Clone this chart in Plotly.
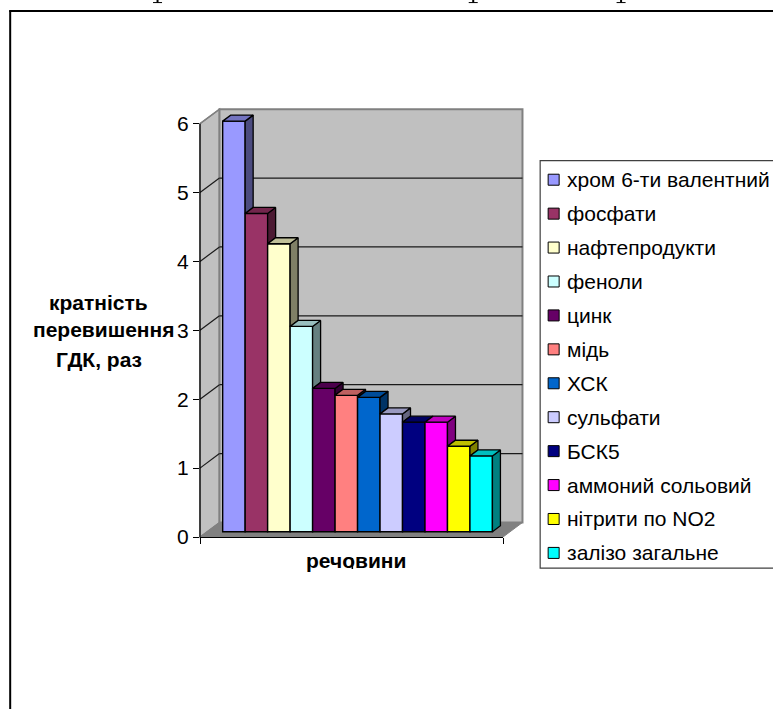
import plotly.graph_objects as go

substances = ["хром 6-ти валентний", "фосфати", "нафтепродукти", "феноли", "цинк", "мідь",
              "ХСК", "сульфати", "БСК5", "аммоний сольовий", "нітрити по NO2", "залізо загальне"]
values = [5.96, 4.62, 4.18, 2.98, 2.08, 1.98, 1.95, 1.71, 1.59, 1.59, 1.24, 1.10]
colors = ["#9999FF", "#993366", "#FFFFCC", "#CCFFFF", "#660066", "#FF8080",
          "#0066CC", "#CCCCFF", "#000080", "#FF00FF", "#FFFF00", "#00FFFF"]
y_ticks = [0, 1, 2, 3, 4, 5, 6]

W, H = 773, 709
L, R, B = 200.0, 503.3, 537.0                    # front plane of the 3-D box, pixels
Y_SCALE = (B - 124.0) / 6.0
Y_TOP = 6.3                                      # a little headroom above the 6 tick
T = B - Y_TOP * Y_SCALE
X0, X1 = -1.509, 11.97                           # x axis range (bar index units)
X_SCALE = (R - L) / (X1 - X0)
BASE = 5.3 / Y_SCALE                             # bars stand slightly inside the floor
BAR_DX, BAR_DY = 8 / X_SCALE, 6 / Y_SCALE        # bar depth
WALL_DX, WALL_DY = 19.5 / X_SCALE, 14.5 / Y_SCALE  # box depth


def px(x):   # page pixel -> paper
    return (x - L) / (R - L)


def py(y):
    return (B - y) / (B - T)


def dx(v):   # data x -> paper
    return (v - X0) / (X1 - X0)


def dy(v):   # data y -> paper
    return v / Y_TOP


def shade(hex_color, k):
    r, g, b = (int(hex_color[i:i + 2], 16) for i in (1, 3, 5))
    return f"rgb({round(r * k)},{round(g * k)},{round(b * k)})"


def poly(points):
    return "M" + " L".join(f"{dx(a):.5f},{dy(b):.5f}" for a, b in points) + " Z"


shapes = []


def add_path(points, fill, line, width=1.5):
    shapes.append(dict(type="path", xref="paper", yref="paper", path=poly(points),
                       fillcolor=fill, line=dict(color=line, width=width), layer="below"))


def stroke(x0, y0, x1, y1, color="#000000", width=1.0, layer="above"):
    shapes.append(dict(type="line", xref="paper", yref="paper", x0=px(x0), y0=py(y0), x1=px(x1), y1=py(y1),
                       line=dict(color=color, width=width), layer=layer))


top_back = 6 + WALL_DY
# left wall, back wall, floor
add_path([(X0, 0), (X0 + WALL_DX, WALL_DY), (X0 + WALL_DX, top_back), (X0, 6)], "#C0C0C0", "#808080", 1.5)
add_path([(X0 + WALL_DX, WALL_DY), (X1 + WALL_DX, WALL_DY), (X1 + WALL_DX, top_back), (X0 + WALL_DX, top_back)],
         "#C0C0C0", "#808080", 2)
add_path([(X0, 0), (X0 + WALL_DX, WALL_DY), (X1 + WALL_DX, WALL_DY), (X1, 0)], "#808080", "#808080", 1)
# gridlines along the walls
for t in y_ticks[1:]:
    for a, b, c, d in [(X0, t, X0 + WALL_DX, t + WALL_DY), (X0 + WALL_DX, t + WALL_DY, X1 + WALL_DX, t + WALL_DY)]:
        if t == 6 and c != X0 + WALL_DX:
            continue
        shapes.append(dict(type="line", xref="paper", yref="paper", x0=dx(a), y0=dy(b), x1=dx(c), y1=dy(d),
                           line=dict(color="#1a1a1a" if t != 6 else "#808080", width=1.2), layer="below"))
# y axis line (stops at the 6 tick)
shapes.append(dict(type="line", xref="paper", yref="paper", x0=dx(X0), x1=dx(X0), y0=dy(0), y1=dy(6),
                   line=dict(color="#000000", width=1.2), layer="below"))
# page frame
stroke(9, 11.5, 800, 11.5, width=2, layer="below")
stroke(10, 11, 10, 720, width=2, layer="below")
# feet of the page text line that is cut off above the frame
for xf in (157.5, 473.5, 621.5):
    stroke(xf, 0, xf, 3, width=2, layer="below")
    stroke(xf - 4.5, 3, xf + 4.5, 3, width=1, layer="below")

fig = go.Figure()
for i, (name, v, c) in enumerate(zip(substances, values, colors)):
    fig.add_trace(go.Bar(x=[i], y=[v], base=[BASE], width=1, name=name, cliponaxis=False,
                         marker=dict(color=c, line=dict(color="#000000", width=1.4)), showlegend=False))

for i, (name, v, c) in enumerate(zip(substances, values, colors)):
    xl, xr = i - 0.5, i + 0.5
    top = BASE + v
    nxt = BASE + values[i + 1] if i + 1 < len(values) else BASE
    face_line = dict(color="#000000", width=1.3)
    if nxt < top:
        fig.add_trace(go.Scatter(x=[xr, xr + BAR_DX, xr + BAR_DX, xr, xr],
                                 y=[nxt, nxt + BAR_DY, top + BAR_DY, top, nxt],
                                 mode="lines", fill="toself", fillcolor=shade(c, 0.5), line=face_line,
                                 cliponaxis=False, showlegend=False, hoverinfo="skip"))
    fig.add_trace(go.Scatter(x=[xl, xl + BAR_DX, xr + BAR_DX, xr, xl],
                             y=[top, top + BAR_DY, top + BAR_DY, top, top],
                             mode="lines", fill="toself", fillcolor=shade(c, 0.75), line=face_line,
                             cliponaxis=False, showlegend=False, hoverinfo="skip"))

annotations = []


def text(x, y, s, size, bold=False, anchor="center", family="Liberation Sans"):
    annotations.append(dict(x=px(x), y=py(y), xref="paper", yref="paper", text=f"<b>{s}</b>" if bold else s,
                            showarrow=False, xanchor=anchor, yanchor="middle", borderpad=0,
                            font=dict(family=family, size=size, color="#000000")))


# legend box, swatches and labels
shapes.append(dict(type="rect", xref="paper", yref="paper", x0=px(540.5), x1=px(800), y0=py(161), y1=py(568),
                   line=dict(color="#404040", width=1.2), fillcolor="#FFFFFF", layer="below"))
for i, (name, c) in enumerate(zip(substances, colors)):
    yc = 180 + i * 33.9
    shapes.append(dict(type="rect", xref="paper", yref="paper", x0=px(548.5), x1=px(559.5),
                       y0=py(yc - 5.5), y1=py(yc + 5.5), fillcolor=c,
                       line=dict(color="#000000", width=1)))
    text(566, yc, name, 21, anchor="left")

text(98.5, 303, "кратність", 21, bold=True)
text(104, 330, "перевишення", 21, bold=True)
text(99, 360, "ГДК, раз", 21, bold=True)
text(356.5, 560, "речовини", 21, bold=True)

# stray middle tick of the category axis, lying over the axis title
stroke(352.5, 558, 352.5, 569, width=1.5)

fig.update_layout(
    width=W, height=H, autosize=False, paper_bgcolor="#FFFFFF", plot_bgcolor="rgba(0,0,0,0)",
    margin=dict(l=L, r=W - R, t=T, b=H - B, pad=0), barmode="overlay", showlegend=False,
    shapes=shapes, annotations=annotations,
    xaxis=dict(range=[X0, X1], tickvals=[X0, X1], ticktext=["", ""], ticks="outside",
               ticklen=6, tickwidth=1, tickcolor="#000000", showline=True, linecolor="#000000", linewidth=1,
               showgrid=False, zeroline=False),
    yaxis=dict(range=[0, Y_TOP], tickvals=y_ticks, ticks="outside", ticklen=6, tickwidth=1, tickcolor="#000000",
               showline=False, showgrid=False, zeroline=False,
               tickfont=dict(family="Liberation Sans", size=21, color="#000000")),
)
fig.write_html("out.html", config={"displayModeBar": False},
               post_script="document.body.style.margin='0';document.body.style.overflow='hidden';")
